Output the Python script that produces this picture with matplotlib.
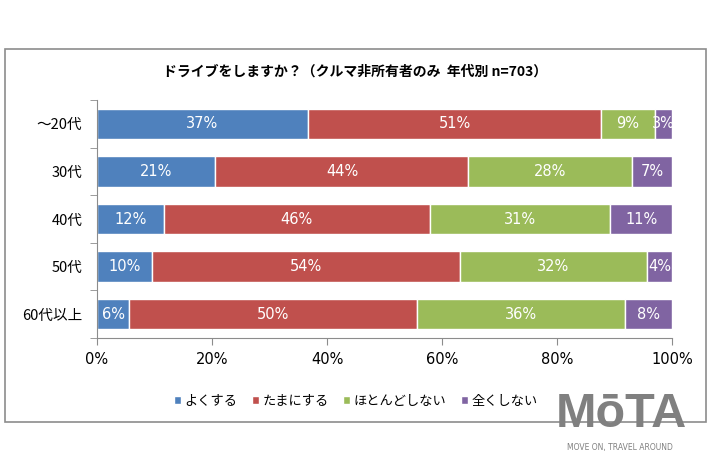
import numpy as np
import matplotlib.pyplot as plt
from matplotlib.patches import Rectangle

plt.rcParams['font.family'] = ['Noto Sans CJK JP', 'DejaVu Sans']

ages = ['～20代', '30代', '40代', '50代', '60代以上']
series = ['よくする', 'たまにする', 'ほとんどしない', '全くしない']
colors = ['#4f81bd', '#c0504d', '#9bbb59', '#8064a2']

often = [36.7, 20.6, 11.6, 9.6, 5.6]
sometimes = [51.0, 44.0, 46.3, 53.6, 50.1]
rarely = [9.3, 28.4, 31.4, 32.4, 36.2]
never = [3.0, 7.0, 10.7, 4.4, 8.1]
labels = [['37%', '51%', '9%', '3%'],
          ['21%', '44%', '28%', '7%'],
          ['12%', '46%', '31%', '11%'],
          ['10%', '54%', '32%', '4%'],
          ['6%', '50%', '36%', '8%']]

fig = plt.figure(figsize=(7.1, 4.73), dpi=100)
# outer chart frame
fig.patches.append(Rectangle((5 / 710, 1 - 422 / 473), 701 / 710, 373 / 473,
                             transform=fig.transFigure, fill=False,
                             edgecolor='#8c8c8c', lw=1.2))

ax = fig.add_axes([97 / 710, 1 - 338 / 473, 575 / 710, 238 / 473])
y = np.arange(len(ages))
data = [often, sometimes, rarely, never]
left = np.zeros(len(ages))
for k in range(len(series)):
    vals = np.array(data[k])
    ax.barh(y, vals, left=left, height=0.64, color=colors[k],
            edgecolor='white', linewidth=1, label=series[k])
    for i in range(len(ages)):
        ax.text(left[i] + vals[i] / 2, y[i], labels[i][k], color='white',
                ha='center', va='center', fontsize=10.5, family='DejaVu Sans')
    left += vals

ax.set_xlim(0, 100)
ax.set_ylim(len(ages) - 0.5, -0.5)
ax.set_xticks(np.arange(0, 101, 20))
ax.set_xticklabels([f'{v}%' for v in range(0, 101, 20)], fontsize=10.5,
                   family='DejaVu Sans')
ax.set_yticks(y)
ax.set_yticklabels(ages, fontsize=10.5)
ax.set_yticks(np.arange(-0.5, len(ages)), minor=True)
ax.tick_params(axis='y', which='major', length=0, pad=10.5)
ax.tick_params(axis='y', which='minor', length=5, color='#8c8c8c')
ax.tick_params(axis='x', length=5, color='#8c8c8c', pad=5)
for s in ['top', 'right']:
    ax.spines[s].set_visible(False)
for s in ['left', 'bottom']:
    ax.spines[s].set_color('#8c8c8c')

fig.text(355 / 710, 1 - 72 / 473, 'ドライブをしますか？（クルマ非所有者のみ  年代別 n=703）',
         ha='center', va='center', fontsize=10, fontweight='bold')

fig.legend(loc='center', bbox_to_anchor=(356 / 710, 1 - 401 / 473), ncol=4,
           frameon=False, fontsize=9.5, handlelength=0.5, handleheight=0.5,
           handletextpad=0.3, columnspacing=1.1)

fig.text(621 / 710, 1 - 414 / 473, 'MōTA', ha='center', va='center',
         fontsize=35, fontweight='bold', color='#808080', family='Liberation Sans')
fig.text(620 / 710, 1 - 447 / 473, 'MOVE ON, TRAVEL AROUND', ha='center',
         va='center', fontsize=5.5, color='#808080', family='DejaVu Sans')

fig.savefig('out.png', dpi=100)
